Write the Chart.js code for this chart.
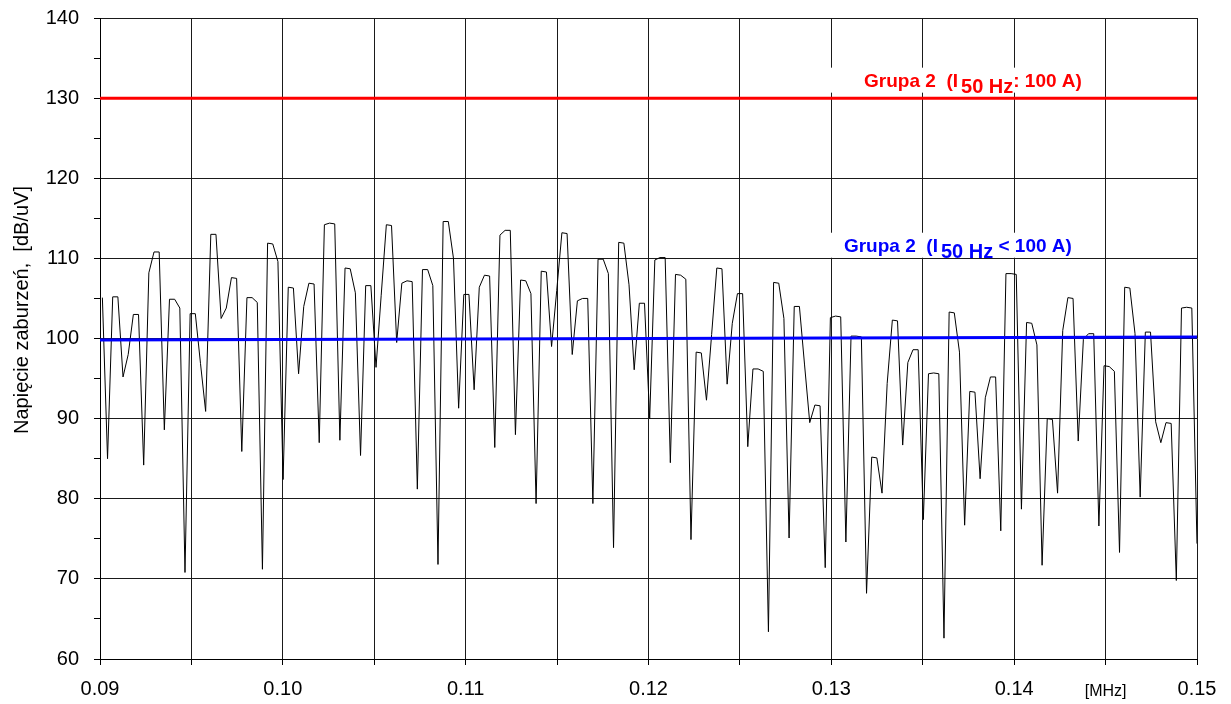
<!DOCTYPE html>
<html lang="pl">
<head>
<meta charset="UTF-8">
<title>Napięcie zaburzeń</title>
<script src="https://cdn.jsdelivr.net/npm/chart.js@4.4.1/dist/chart.umd.min.js"></script>
<style>
    html, body { margin: 0; padding: 0; background: #fff; }
    #chartBox { width: 1231px; height: 704px; }
</style>
</head>
<body>
<div id="chartBox"><canvas id="noiseChart" width="1231" height="704"></canvas></div>
<script>
// Przemiatanie: pierwsza próbka i krok [MHz]
const FREQ_START = 0.09013;
const FREQ_STEP = 0.0002824;

// Zmierzone napięcie zaburzeń [dB/uV], kolejne próbki
const noiseLevels = [
    105.1, 85.0, 105.2, 105.2, 95.2, 98.0, 103.0, 103.0, 84.2, 108.2,
    110.8, 110.8, 88.6, 104.9, 104.9, 103.8, 70.8, 103.1, 103.1, 96.9,
    90.9, 113.0, 113.0, 102.5, 103.8, 107.6, 107.5, 85.9, 105.1, 105.1,
    104.5, 71.2, 111.9, 111.8, 109.6,
    82.4, 106.4, 106.3, 95.6, 104.0, 106.9, 106.8, 87.0, 114.2, 114.4,
    114.3, 87.3, 108.8, 108.7, 105.7, 85.4, 106.6, 106.6, 96.4, 105.4,
    114.2, 114.1, 99.5, 106.9, 107.2, 107.1, 81.2, 108.6, 108.6, 106.6,
    71.8, 114.6, 114.6, 110.0, 91.3,
    105.5, 105.5, 93.6, 106.4, 107.9, 107.8, 86.4, 112.9, 113.5, 113.5,
    88.0, 107.3, 107.2, 105.6, 79.4, 108.4, 108.3, 99.0, 106.0, 113.2,
    113.1, 98.0, 104.7, 105.0, 105.0, 79.4, 109.9, 109.9, 108.1, 73.9,
    112.0, 111.9, 106.7, 96.1,
    104.4, 104.4, 90.0, 109.8, 110.1, 110.1, 84.5, 108.0, 107.9, 107.4,
    74.9, 98.3, 98.2, 92.3, 100.5, 108.8, 108.7, 94.3, 101.9, 105.6,
    105.6, 86.5, 96.2, 96.2, 95.9, 63.4, 107.0, 106.9, 102.5, 75.1,
    104.0, 104.0, 96.7, 89.5, 91.7, 91.6,
    71.4, 102.6, 102.8, 102.7, 74.6, 100.3, 100.3, 100.2, 68.2, 85.2,
    85.1, 80.7, 94.4, 102.3, 102.2, 86.7, 97.0, 98.6, 98.6, 77.4,
    95.6, 95.7, 95.6, 62.6, 103.3, 103.2, 98.3, 76.7, 93.4, 93.3,
    82.5, 92.6, 95.2, 95.2,
    76.0, 108.1, 108.1, 108.0, 78.7, 102.0, 101.9, 99.2, 71.7, 90.0,
    89.9, 80.7, 101.0, 105.1, 105.0, 87.2, 99.9, 100.6, 100.6, 76.6,
    96.6, 96.5, 95.9, 73.3, 106.4, 106.3, 100.6, 80.2, 100.8, 100.8,
    89.6, 87.0, 89.5, 89.4, 69.8, 103.8, 103.9, 103.8, 74.4
];

// Limity dla grupy 2 (początek i koniec pasma)
const limitFreqs = [0.09, 0.15];
const limitHigh = [130, 130];     // I50 Hz >= 100 A
const limitLow = [99.8, 100.2];   // I50 Hz < 100 A

// Osie
const xGridTicks = [0.09, 0.095, 0.10, 0.105, 0.11, 0.115, 0.12, 0.125, 0.13, 0.135, 0.14, 0.145, 0.15];
const xLabelTicks = [0.09, 0.10, 0.11, 0.12, 0.13, 0.14, 0.15];
const X_UNIT_TICK = 0.145;
const X_UNIT_LABEL = '[MHz]';
const Y_MIN = 60;
const Y_MAX = 140;
const Y_STEP = 5;
const Y_LABEL_STEP = 10;
const Y_TITLE = 'Napięcie zaburzeń,  [dB/uV]';

// Opisy linii granicznych
const limitLabels = [
    { freq: 0.13179, level: 131.43, color: '#ff0000', head: 'Grupa 2  (I', sub: '50 Hz', tail: ': 100 A)', padLeft: 40 },
    { freq: 0.13069, level: 110.83, color: '#0000ff', head: 'Grupa 2  (I', sub: '50 Hz', tail: ' < 100 A)', padLeft: 20 }
];

const FONT = 'Arial, "Liberation Sans", sans-serif';
const GRID_COLOR = '#1a1a1a';

function sameTick(a, b) {
    return Math.abs(a - b) < 1e-7;
}

function toPoints(xs, ys) {
    return ys.map((v, i) => ({ x: xs[i], y: v }));
}

const noisePoints = noiseLevels.map((v, i) => ({ x: FREQ_START + i * FREQ_STEP, y: v }));

// Opisy grup + tytuł osi Y (przesunięty względem środka osi)
const labelsPlugin = {
    id: 'limitLabels',
    beforeDatasetsDraw(chart) {
        const { ctx, scales: { x, y } } = chart;
        const mainFont = 'bold 19px ' + FONT;
        const subFont = 'bold 20px ' + FONT;
        ctx.save();
        ctx.textBaseline = 'alphabetic';
        ctx.textAlign = 'left';
        limitLabels.forEach(lbl => {
            const left = x.getPixelForValue(lbl.freq);
            const base = y.getPixelForValue(lbl.level);
            ctx.font = mainFont;
            const wHead = ctx.measureText(lbl.head).width;
            const wTail = ctx.measureText(lbl.tail).width;
            ctx.font = subFont;
            const wSub = ctx.measureText(lbl.sub).width;
            const subX = left + wHead + 3;
            const tailX = subX + wSub;

            ctx.fillStyle = '#fff';
            ctx.fillRect(left - lbl.padLeft, base - 19, lbl.padLeft + (tailX + wTail - left) + 8, 25);

            ctx.fillStyle = lbl.color;
            ctx.font = mainFont;
            ctx.fillText(lbl.head, left, base);
            ctx.fillText(lbl.tail, tailX, base);
            ctx.font = subFont;
            ctx.fillText(lbl.sub, subX, base + 6);
        });

        ctx.translate(22, 310);
        ctx.rotate(-Math.PI / 2);
        ctx.font = '20px ' + FONT;
        ctx.fillStyle = '#000';
        ctx.textAlign = 'center';
        ctx.textBaseline = 'middle';
        ctx.fillText(Y_TITLE, 0, 0);
        ctx.restore();
    }
};

Chart.defaults.font.family = FONT;
Chart.defaults.color = '#000';

new Chart(document.getElementById('noiseChart'), {
    type: 'line',
    data: {
        datasets: [
            {
                label: 'Pomiar',
                data: noisePoints,
                borderColor: '#000',
                borderWidth: 1,
                pointRadius: 0,
                tension: 0,
                order: 1
            },
            {
                label: 'Grupa 2 (I50 Hz >= 100 A)',
                data: toPoints(limitFreqs, limitHigh),
                borderColor: '#ff0000',
                borderWidth: 3,
                pointRadius: 0,
                order: 0
            },
            {
                label: 'Grupa 2 (I50 Hz < 100 A)',
                data: toPoints(limitFreqs, limitLow),
                borderColor: '#0000ff',
                borderWidth: 3,
                pointRadius: 0,
                order: 0
            }
        ]
    },
    options: {
        responsive: false,
        animation: false,
        layout: {
            padding: { top: 18, right: 34, bottom: 0, left: 0 }
        },
        plugins: {
            legend: { display: false },
            tooltip: { enabled: false }
        },
        scales: {
            x: {
                type: 'linear',
                min: 0.09,
                max: 0.15,
                afterBuildTicks: (scale) => {
                    scale.ticks = xGridTicks.map(v => ({ value: v }));
                },
                afterFit: (scale) => { scale.height = 45; },
                border: { color: '#000', width: 1 },
                grid: {
                    color: GRID_COLOR,
                    tickColor: '#000',
                    tickLength: 6,
                    lineWidth: 1
                },
                ticks: {
                    autoSkip: false,
                    maxRotation: 0,
                    padding: 12,
                    font: (ctx) => (ctx.tick && sameTick(ctx.tick.value, X_UNIT_TICK))
                        ? { size: 16, lineHeight: 1.8 }
                        : { size: 20 },
                    callback: (value) => {
                        if (sameTick(value, X_UNIT_TICK)) return X_UNIT_LABEL;
                        const hit = xLabelTicks.find(t => sameTick(t, value));
                        return hit !== undefined ? hit.toFixed(2) : '';
                    }
                }
            },
            y: {
                min: Y_MIN,
                max: Y_MAX,
                afterFit: (scale) => {
                    // szerokość osi stała, bez dodatkowego marginesu od etykiet
                    scale.width = 100;
                    scale.paddingTop = 0;
                    scale.paddingBottom = 0;
                },
                border: { color: '#000', width: 1 },
                grid: {
                    color: (ctx) => (ctx.tick && ctx.tick.value % Y_LABEL_STEP === 0) ? GRID_COLOR : 'rgba(0,0,0,0)',
                    tickColor: '#000',
                    tickLength: 6,
                    lineWidth: 1
                },
                ticks: {
                    stepSize: Y_STEP,
                    padding: 15,
                    font: { size: 20 },
                    callback: (value) => value % Y_LABEL_STEP === 0 ? String(value) : ''
                }
            }
        }
    },
    plugins: [labelsPlugin]
});
</script>
</body>
</html>
